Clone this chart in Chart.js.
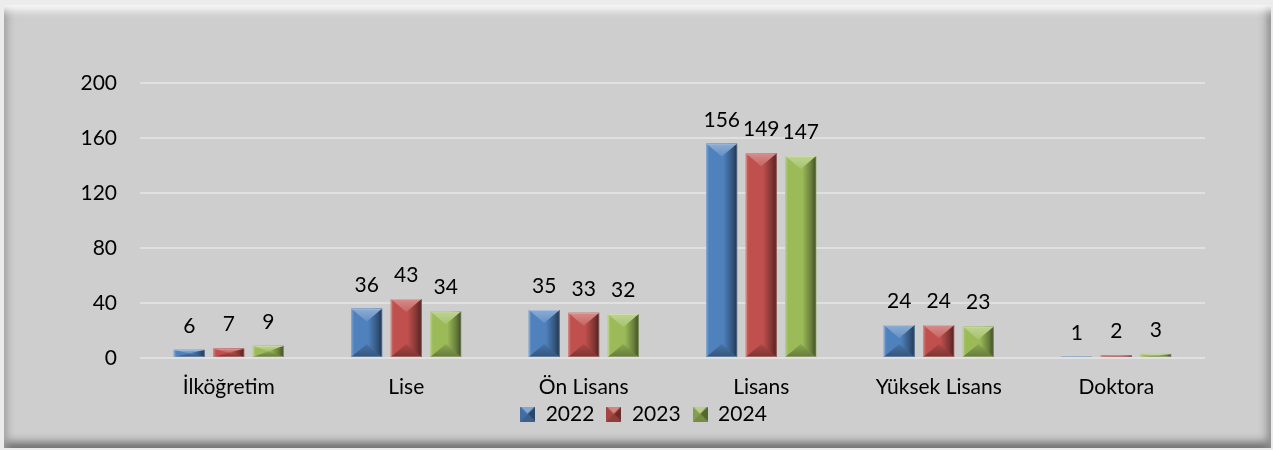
<!DOCTYPE html>
<html><head><meta charset="utf-8">
<script src="https://cdn.jsdelivr.net/npm/chart.js@4.4.0/dist/chart.umd.min.js"></script>
<style>
html,body{margin:0;padding:0;background:#ececec;}
#wrap{position:relative;width:1273px;height:450px;overflow:hidden;}
#panel{position:absolute;left:4px;top:5px;width:1267px;height:443px;background:#cecece;
box-shadow: inset 0 12px 9px -7px #fdfdfd, inset 10px 0 8px -7px #9c9c9c, inset -10px 0 8px -6px #8c8c8c, inset 0 -12px 9px -6px #6f6f6f;}
canvas{position:absolute;left:0;top:0;}
</style></head><body>
<div id="wrap"><div id="panel"></div><canvas id="c" width="1273" height="450"></canvas></div>
<script>
const categories = ['İlköğretim','Lise','Ön Lisans','Lisans','Yüksek Lisans','Doktora'];
const seriesNames = ['2022','2023','2024'];
const values2022 = [6,36,35,156,24,1];
const values2023 = [7,43,33,149,24,2];
const values2024 = [9,34,32,147,23,3];
const yTicks = [0,40,80,120,160,200];
const colors = ['#4f81bd','#c0504d','#9bbb59'];
const seriesValues = [values2022, values2023, values2024];

function shade(hex, amt){
  const n=parseInt(hex.slice(1),16);
  let r=(n>>16)&255,g=(n>>8)&255,b=n&255;
  const t=amt>0?255:0, p=Math.abs(amt);
  r=Math.round(r+(t-r)*p); g=Math.round(g+(t-g)*p); b=Math.round(b+(t-b)*p);
  return 'rgb('+r+','+g+','+b+')';
}

function legendIcon(c){
  const cv=document.createElement('canvas'); cv.width=15; cv.height=15;
  const x=cv.getContext('2d'); const s=15, m=7.5;
  x.fillStyle=c; x.fillRect(0,0,s,s);
  const tri=(pts,col)=>{x.beginPath();x.moveTo(pts[0],pts[1]);x.lineTo(pts[2],pts[3]);x.lineTo(pts[4],pts[5]);x.closePath();x.fillStyle=col;x.fill();};
  tri([0,0,s,0,m,m],shade(c,0.3));
  tri([0,0,0,s,m,m],shade(c,-0.15));
  tri([s,0,s,s,m,m],shade(c,-0.45));
  tri([0,s,s,s,m,m],shade(c,-0.25));
  return cv;
}

const LEGEND_H = 32.8;
const LEGEND_SHIFT = 25.7;
const bevelPlugin = {
  id:'bevel',
  beforeLayout(chart){
    const lg=chart.legend;
    if(lg && !lg._patched){
      const f=lg.fit;
      lg.fit=function(){ f.call(this); this.height=LEGEND_H; };
      lg._patched=true;
    }
  },
  afterLayout(chart){
    const lg=chart.legend;
    if(lg){ lg.top-=LEGEND_SHIFT; lg.bottom-=LEGEND_SHIFT; }
  },
  afterDatasetsDraw(chart){
    const ctx=chart.ctx;
    chart.data.datasets.forEach((ds,di)=>{
      const meta=chart.getDatasetMeta(di); const c=colors[di];
      meta.data.forEach(bar=>{
        const p=bar.getProps(['x','y','base','width'],true);
        const l=p.x-p.width/2, r=p.x+p.width/2, t=Math.min(p.y,p.base), b=Math.max(p.y,p.base);
        const h=b-t, w=p.width; if(h<=0.3) return;
        ctx.save(); ctx.beginPath(); ctx.rect(l,t,w,h); ctx.clip();
        const g=ctx.createLinearGradient(l,0,r,0);
        g.addColorStop(0,shade(c,0.18)); g.addColorStop(0.1,c); g.addColorStop(0.55,c);
        g.addColorStop(0.85,shade(c,-0.35)); g.addColorStop(1,shade(c,-0.6));
        ctx.fillStyle=g; ctx.fillRect(l,t,w,h);
        const s=Math.min(w*0.42,h/2);
        ctx.beginPath(); ctx.moveTo(l,t); ctx.lineTo(r,t); ctx.lineTo(p.x,t+s); ctx.closePath();
        const gt=ctx.createLinearGradient(0,t,0,t+s);
        gt.addColorStop(0,shade(c,0.35)); gt.addColorStop(1,shade(c,0.12));
        ctx.fillStyle=gt; ctx.fill();
        ctx.beginPath(); ctx.moveTo(l,b); ctx.lineTo(r,b); ctx.lineTo(p.x,b-s); ctx.closePath();
        const gb=ctx.createLinearGradient(0,b,0,b-s);
        gb.addColorStop(0,shade(c,-0.35)); gb.addColorStop(1,shade(c,-0.1));
        ctx.fillStyle=gb; ctx.fill();
        ctx.strokeStyle='rgba(255,255,255,0.25)'; ctx.lineWidth=1;
        ctx.strokeRect(l+0.5,t+0.5,w-1,h-1);
        ctx.restore();
      });
    });
    ctx.save();
    ctx.font='21px Lato'; ctx.fillStyle='#000'; ctx.textAlign='center'; ctx.textBaseline='alphabetic';
    chart.data.datasets.forEach((ds,di)=>{
      const meta=chart.getDatasetMeta(di);
      meta.data.forEach((bar,i)=>{
        ctx.fillText(String(ds.data[i]), bar.x, bar.y-17);
      });
    });
    ctx.restore();
  }
};

Chart.defaults.font.family='Lato';
Chart.defaults.font.size=21;
Chart.defaults.color='#000';

new Chart(document.getElementById('c'),{
  type:'bar',
  data:{
    labels:categories,
    datasets:seriesNames.map((n,i)=>({
      label:n, data:seriesValues[i], backgroundColor:colors[i], borderWidth:0,
      categoryPercentage:0.668, barPercentage:0.785, yAxisID:'y'
    }))
  },
  options:{
    responsive:false, animation:false, devicePixelRatio:1,
    layout:{padding:{left:14,top:83,right:0,bottom:0}},
    plugins:{
      tooltip:{enabled:false},
      legend:{
        position:'bottom',
        labels:{
          padding:12, usePointStyle:true, boxWidth:15, boxHeight:15,
          font:{size:21}, color:'#000',
          generateLabels(chart){
            const items=Chart.defaults.plugins.legend.labels.generateLabels(chart);
            items.forEach((it,i)=>{it.pointStyle=legendIcon(colors[i]);});
            return items;
          }
        }
      }
    },
    scales:{
      x:{
        grid:{display:false, drawTicks:false}, border:{display:false},
        ticks:{padding:17, font:{size:21}, color:'#000'}
      },
      y:{
        min:0, max:200,
        grid:{color:'#e0e0e0', lineWidth:2, drawTicks:false},
        border:{display:false},
        ticks:{padding:23, font:{size:21}, color:'#000', stepSize:40},
        afterBuildTicks(s){s.ticks=yTicks.map(v=>({value:v}));},
        afterFit(s){s.width=126;}
      },
      y2:{
        position:'right', display:true,
        grid:{display:false}, border:{display:false}, ticks:{display:false},
        afterFit(s){s.width=68;}
      }
    }
  },
  plugins:[bevelPlugin]
});
</script>
</body></html>
